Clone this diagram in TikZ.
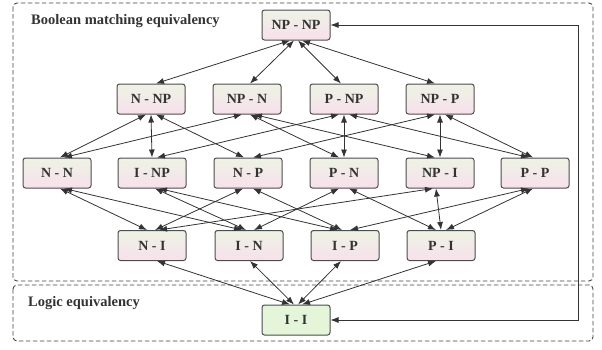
\documentclass[tikz,border=0pt]{standalone}
\usepackage{fontspec}
\setmainfont{Liberation Serif}
\usetikzlibrary{arrows.meta}
\definecolor{txt}{HTML}{333333}
\definecolor{bord}{HTML}{4D4D4D}
\definecolor{gtop}{HTML}{EEF3E4}
\definecolor{pbot}{HTML}{F7E0EC}
\definecolor{ifill}{HTML}{E4F5DA}
\definecolor{dashc}{HTML}{444444}
\tikzset{
  eqbox/.style={draw=bord, line width=1pt, rounded corners=2.5pt, minimum width=68pt, minimum height=30pt, inner sep=0pt,
    top color=gtop, bottom color=pbot, font=\fontsize{14}{16}\selectfont\bfseries, text=txt},
  ibox/.style={eqbox, top color=ifill, bottom color=ifill, fill=ifill},
  region/.style={draw=dashc, line width=0.9pt, dash pattern=on 4.5pt off 2.5pt, rounded corners=4pt},
  conn/.style={draw=txt, line width=0.8pt, {Latex[length=8pt,width=6pt]}-{Latex[length=8pt,width=6pt]}},
  grouplabel/.style={font=\fontsize{14.5}{16}\selectfont\bfseries, text=txt, inner sep=0pt, anchor=base west}
}
\begin{document}
\begin{tikzpicture}[x=1pt,y=-1pt]
\useasboundingbox (0,0) rectangle (602,349);
\draw[region] (13,3) rectangle (593,281);
\draw[region] (13,285) rectangle (593,341);
\node[grouplabel] (lb1) at (31,24.5) {Boolean matching equivalency};
\node[grouplabel] (lb2) at (28,306) {Logic equivalency};
% nodes
\node[eqbox] (npnp) at (296,25) {NP - NP};
\node[eqbox] (nnp) at (151,99) {N - NP};
\node[eqbox] (npn) at (247,99) {NP - N};
\node[eqbox] (pnp) at (344,99) {P - NP};
\node[eqbox] (npp) at (440,99) {NP - P};
\node[eqbox] (nn) at (57,173) {N - N};
\node[eqbox] (inp) at (152,173) {I - NP};
\node[eqbox] (np) at (248,173) {N - P};
\node[eqbox] (pn) at (344,173) {P - N};
\node[eqbox] (npi) at (440,173) {NP - I};
\node[eqbox] (pp) at (535,173) {P - P};
\node[eqbox] (ni) at (152,245.5) {N - I};
\node[eqbox] (in) at (249,245.5) {I - N};
\node[eqbox] (ip) at (345,245.5) {I - P};
\node[eqbox] (pi) at (441,245.5) {P - I};
\node[ibox] (ii) at (296,320) {I - I};
\coordinate (fb) at (578,0);
% level 1-2
\draw[conn] ([xshift=-6pt]npnp.south) -- ([xshift=5pt]nnp.north);
\draw[conn] ([xshift=-2pt]npnp.south) -- ([xshift=3pt]npn.north);
\draw[conn] ([xshift=2pt]npnp.south) -- ([xshift=-3pt]pnp.north);
\draw[conn] ([xshift=6pt]npnp.south) -- ([xshift=-5pt]npp.north);
% level 2-3
\draw[conn] ([xshift=-5pt]nnp.south) -- ([xshift=3pt]nn.north);
\draw[conn] (nnp.south) -- (inp.north);
\draw[conn] ([xshift=5pt]nnp.south) -- ([xshift=-4pt]np.north);
\draw[conn] ([xshift=-5pt]npn.south) -- ([xshift=7pt]nn.north);
\draw[conn] ([xshift=3pt]npn.south) -- ([xshift=-5pt]pn.north);
\draw[conn] ([xshift=7pt]npn.south) -- ([xshift=-5pt]npi.north);
\draw[conn] ([xshift=-5pt]pnp.south) -- ([xshift=5pt]inp.north);
\draw[conn] (pnp.south) -- (pn.north);
\draw[conn] ([xshift=5pt]pnp.south) -- ([xshift=-6pt]pp.north);
\draw[conn] ([xshift=-5pt]npp.south) -- ([xshift=5pt]np.north);
\draw[conn] (npp.south) -- (npi.north);
\draw[conn] ([xshift=5pt]npp.south) -- ([xshift=-2pt]pp.north);
% level 3-4
\draw[conn] ([xshift=3pt]nn.south) -- ([xshift=-5pt]ni.north);
\draw[conn] ([xshift=7pt]nn.south) -- ([xshift=-7pt]in.north);
\draw[conn] ([xshift=3pt]inp.south) -- ([xshift=-3pt]in.north);
\draw[conn] ([xshift=7pt]inp.south) -- ([xshift=-7pt]ip.north);
\draw[conn] ([xshift=-5pt]np.south) -- ([xshift=3pt]ni.north);
\draw[conn] ([xshift=5pt]np.south) -- ([xshift=-3pt]ip.north);
\draw[conn] ([xshift=-5pt]pn.south) -- ([xshift=5pt]in.north);
\draw[conn] ([xshift=5pt]pn.south) -- ([xshift=-5pt]pi.north);
\draw[conn] ([xshift=-7pt]npi.south) -- ([xshift=7pt]ni.north);
\draw[conn] ([xshift=-4pt]npi.south) -- (pi.north);
\draw[conn] ([xshift=-6pt]pp.south) -- ([xshift=5pt]ip.north);
\draw[conn] ([xshift=-2pt]pp.south) -- ([xshift=5pt]pi.north);
% level 4-5
\draw[conn] ([xshift=5pt]ni.south) -- ([xshift=-6pt]ii.north);
\draw[conn] ([xshift=1pt]in.south) -- ([xshift=-2pt]ii.north);
\draw[conn] ([xshift=-4pt]ip.south) -- ([xshift=2pt]ii.north);
\draw[conn] ([xshift=-5pt]pi.south) -- ([xshift=6pt]ii.north);
% feedback
\draw[conn] (ii.east) -- (ii.east -| fb) -- (npnp.east -| fb) -- (npnp.east);
\end{tikzpicture}
\end{document}
